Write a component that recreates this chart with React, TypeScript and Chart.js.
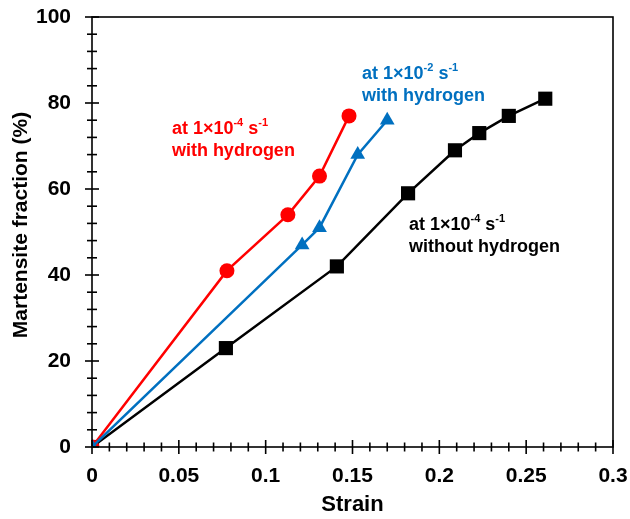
import React, { useEffect, useRef } from "react";
import { Chart, registerables } from "chart.js";

Chart.register(...registerables);

const redX = [0, 0.0777, 0.1128, 0.131, 0.148];
const redY = [0, 41, 54, 63, 77];
const blueX = [0, 0.121, 0.131, 0.153, 0.170];
const blueY = [0, 47, 51, 68, 76];
const blackX = [0, 0.0771, 0.141, 0.182, 0.209, 0.223, 0.240, 0.261];
const blackY = [0, 23, 42, 59, 69, 73, 77, 81];

const xMin = 0, xMax = 0.3, xStep = 0.05, xMinorStep = 0.01;
const yMin = 0, yMax = 100, yStep = 20, yMinorStep = 4;

const xTitle = "Strain";
const yTitle = "Martensite fraction (%)";

const RED = "#FF0000";
const BLUE = "#0070C0";
const BLACK = "#000000";
const FONT = "'Liberation Sans', Arial, sans-serif";

type Note = { x: number; y: number; color: string; rate: string; line2: string };
const notes: Note[] = [
  { x: 0.046, y: 72.8, color: RED, rate: "-4", line2: "with hydrogen" },
  { x: 0.1555, y: 85.6, color: BLUE, rate: "-2", line2: "with hydrogen" },
  { x: 0.1825, y: 50.5, color: BLACK, rate: "-4", line2: "without hydrogen" },
];

const toPts = (xs: number[], ys: number[]) => xs.map((x, i) => ({ x, y: ys[i] }));

const axesPlugin = {
  id: "axesBox",
  afterDraw(chart: any) {
    const { ctx, chartArea: a, scales } = chart;
    const xs = scales.x, ys = scales.y;
    ctx.save();
    ctx.strokeStyle = "#000";
    ctx.lineWidth = 1.6;
    ctx.strokeRect(a.left, a.top, a.right - a.left, a.bottom - a.top);
    for (let v = yMin; v <= yMax + 1e-9; v += yMinorStep) {
      const major = Math.abs(v % yStep) < 1e-6;
      const py = ys.getPixelForValue(v);
      const h = major ? 7 : 5;
      ctx.beginPath();
      ctx.moveTo(a.left - h, py);
      ctx.lineTo(a.left + h, py);
      ctx.stroke();
    }
    const n = Math.round((xMax - xMin) / xMinorStep);
    const per = Math.round(xStep / xMinorStep);
    for (let i = 0; i <= n; i++) {
      const v = xMin + i * xMinorStep;
      const major = i % per === 0;
      const px = xs.getPixelForValue(v);
      const h = major ? 7 : 4.5;
      ctx.beginPath();
      ctx.moveTo(px, a.bottom - h);
      ctx.lineTo(px, a.bottom + h);
      ctx.stroke();
    }
    // axis titles
    ctx.fillStyle = "#000";
    ctx.textBaseline = "alphabetic";
    ctx.textAlign = "center";
    ctx.font = `bold 22px ${FONT}`;
    ctx.fillText(xTitle, (a.left + a.right) / 2, a.bottom + 64);
    ctx.save();
    ctx.translate(a.left - 65, (a.top + a.bottom) / 2 - 7);
    ctx.rotate(-Math.PI / 2);
    ctx.font = `bold 21px ${FONT}`;
    ctx.fillText(yTitle, 0, 0);
    ctx.restore();
    ctx.restore();
  },
};

const notePlugin = {
  id: "notes",
  afterDatasetsDraw(chart: any) {
    const { ctx, scales } = chart;
    ctx.save();
    ctx.textBaseline = "alphabetic";
    ctx.textAlign = "left";
    for (const nt of notes) {
      let px = scales.x.getPixelForValue(nt.x);
      const py = scales.y.getPixelForValue(nt.y);
      ctx.fillStyle = nt.color;
      const big = `bold 18px ${FONT}`;
      const small = `bold 11px ${FONT}`;
      const parts: [string, string, number][] = [
        ["at 1×10", big, 0],
        [nt.rate, small, -8],
        [" s", big, 0],
        ["-1", small, -8],
      ];
      for (const [t, f, dy] of parts) {
        ctx.font = f;
        ctx.fillText(t, px, py + dy);
        px += ctx.measureText(t).width;
      }
      ctx.font = big;
      ctx.fillText(nt.line2, scales.x.getPixelForValue(nt.x), py + 22);
    }
    ctx.restore();
  },
};

const zeroPad = (s: any) => {
  s.paddingTop = 0;
  s.paddingBottom = 0;
  s.paddingLeft = 0;
  s.paddingRight = 0;
};

export default function App() {
  const ref = useRef<HTMLCanvasElement | null>(null);
  useEffect(() => {
    if (!ref.current) return;
    const chart = new Chart(ref.current, {
      type: "scatter",
      data: {
        datasets: [
          {
            label: "1e-2 with hydrogen",
            data: toPts(blueX, blueY),
            showLine: true,
            borderColor: BLUE,
            backgroundColor: BLUE,
            borderWidth: 2.5,
            pointStyle: "triangle",
            pointRadius: 8.5,
            pointBorderWidth: 0,
          },
          {
            label: "1e-4 with hydrogen",
            data: toPts(redX, redY),
            showLine: true,
            borderColor: RED,
            backgroundColor: RED,
            borderWidth: 2.5,
            pointStyle: "circle",
            pointRadius: 7.5,
            pointBorderWidth: 0,
          },
          {
            label: "1e-4 without hydrogen",
            data: toPts(blackX, blackY),
            showLine: true,
            borderColor: BLACK,
            backgroundColor: BLACK,
            borderWidth: 2.5,
            pointStyle: "rect",
            pointRadius: 10,
            pointBorderWidth: 0,
          },
        ],
      },
      options: {
        animation: false,
        responsive: false,
        maintainAspectRatio: false,
        layout: { autoPadding: false, padding: { left: 0, right: 17, top: 17, bottom: 0 } },
        plugins: { legend: { display: false }, tooltip: { enabled: false } },
        scales: {
          x: {
            type: "linear",
            min: xMin,
            max: xMax,
            grid: { display: false, drawTicks: false },
            border: { display: false },
            ticks: {
              stepSize: xStep,
              padding: 17,
              color: "#000",
              font: { family: FONT, size: 21, weight: "bold" },
              maxRotation: 0,
              callback: (v: any) => String(Number(Number(v).toFixed(2))),
            },
            title: { display: false },
            afterFit: (s: any) => { s.height = 72; zeroPad(s); },
          },
          y: {
            type: "linear",
            min: yMin,
            max: yMax,
            grid: { display: false, drawTicks: false },
            border: { display: false },
            ticks: {
              stepSize: yStep,
              padding: 21,
              color: "#000",
              font: { family: FONT, size: 21, weight: "bold" },
            },
            title: { display: false },
            afterFit: (s: any) => { s.width = 92; zeroPad(s); },
          },
        },
      },
      plugins: [axesPlugin, notePlugin],
    } as any);
    return () => chart.destroy();
  }, []);
  return (
    <div style={{ position: "fixed", left: 0, top: 0, width: 630, height: 519, background: "#fff" }}>
      <canvas ref={ref} width={630} height={519} style={{ width: 630, height: 519 }} />
    </div>
  );
}
